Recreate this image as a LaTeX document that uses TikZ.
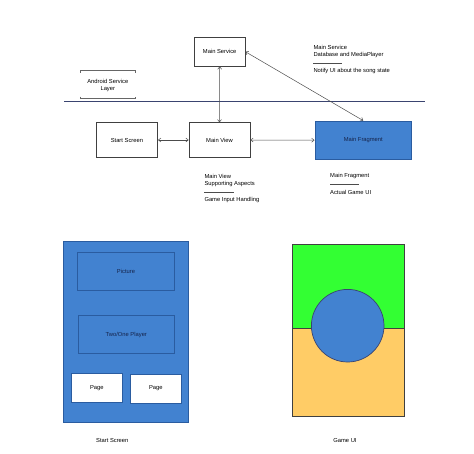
\documentclass[tikz,border=0pt]{standalone}
\usepackage{fontspec}
\setmainfont{Liberation Sans}
\usetikzlibrary{arrows.meta}

\definecolor{uiblue}{HTML}{4282D0}
\definecolor{uiborder}{HTML}{2A5CA0}
\definecolor{uigreen}{HTML}{33FF33}
\definecolor{uiorange}{HTML}{FFCC66}
\definecolor{uinavy}{HTML}{3A4470}
\definecolor{uitext}{HTML}{15234A}

\begin{document}
\begin{tikzpicture}[x=1pt,y=-1pt,font=\fontsize{5.8}{7}\selectfont]
	\tikzstyle{box} = [draw=black!75, fill=white, line width=0.6pt, inner sep=0pt];
	\tikzstyle{bluebox} = [draw=uiborder, fill=uiblue, text=uitext, line width=0.8pt, inner sep=0pt];
	\tikzstyle{note} = [anchor=west, inner sep=0pt];
	\tikzstyle{link} = [black!70, line width=0.5pt, {Straight Barb[length=2.5pt,width=4pt]}-{Straight Barb[length=2.5pt,width=4pt]}];

	\useasboundingbox (0,0) rectangle (474,453);

	% layer line and label
	\draw[uinavy, line width=0.8pt] (64,101.3) -- (425,101.3);
	\draw[black!60, line width=0.5pt] (80,72.5) -- (80,70.7) -- (135.7,70.7) -- (135.7,72.5);
	\draw[black!60, line width=0.5pt] (80,96.5) -- (80,98.3) -- (135.7,98.3) -- (135.7,96.5);
	\node[align=center, inner sep=0pt] at (107.8,85) (layer) {Android Service\\Layer};

	% top diagram
	\node[box, minimum width=50.7pt, minimum height=28.7pt] at (219.7,51.7) (service) {Main Service};
	\node[box, minimum width=61.7pt, minimum height=34.6pt] at (126.9,140) (start) {Start Screen};
	\node[box, minimum width=61pt, minimum height=34.6pt] at (219.5,140) (view) {Main View};
	\node[bluebox, minimum width=96.7pt, minimum height=38.3pt] at (363.3,140.2) (fragment) {Main Fragment};

	\draw[link] (start.east) -- (view.west);
	\draw[link] (view.east) -- (fragment.west);
	\draw[link] (service.south) -- (view.north);
	\draw[link] (service.east) -- (fragment.north);

	% notes
	\node[note] at (313.3,47.3) (snote1) {Main Service};
	\node[note] at (313.3,55) (snote2) {Database and MediaPlayer};
	\draw[black!70, line width=0.4pt] (313.3,63.3) -- (342,63.3);
	\node[note] at (313.3,71) (snote3) {Notify UI about the song state};

	\node[note] at (204.3,176.3) (vnote1) {Main View};
	\node[note] at (204.3,184.3) (vnote2) {Supporting Aspects};
	\draw[black!70, line width=0.4pt] (204.3,192.3) -- (233.7,192.3);
	\node[note] at (204.3,200) (vnote3) {Game Input Handling};

	\node[note] at (330,176.3) (fnote1) {Main Fragment};
	\draw[black!70, line width=0.4pt] (330,184.3) -- (359,184.3);
	\node[note] at (330,192.3) (fnote2) {Actual Game UI};

	% start screen mockup
	\node[bluebox, minimum width=125.4pt, minimum height=181pt] at (126,332.2) (screen) {};
	\node[bluebox, minimum width=96.6pt, minimum height=38pt] at (126,271.7) (picture) {Picture};
	\node[bluebox, minimum width=96pt, minimum height=37.6pt] at (126.3,334.5) (players) {Two/One Player};
	\node[box, draw=uiborder, minimum width=50.3pt, minimum height=28.6pt] at (96.8,388) (pageA) {Page};
	\node[box, draw=uiborder, minimum width=50.3pt, minimum height=29pt] at (155.8,388.5) (pageB) {Page};
	\node at (112.3,440) (screenlbl) {Start Screen};

	% game ui mockup
	\fill[uigreen] (292,244.3) rectangle (404,328.3);
	\fill[uiorange] (292,328.3) rectangle (404,416.7);
	\draw[black!75, line width=0.6pt] (292,328.3) -- (404,328.3);
	\draw[black!75, line width=0.6pt] (292,244.3) rectangle (404,416.7);
	\node[circle, draw=uinavy, fill=uiblue, line width=0.7pt, minimum size=72.6pt, inner sep=0pt] at (347.7,325.7) (ball) {};
	\node at (345,440) (gamelbl) {Game UI};

\end{tikzpicture}
\end{document}
